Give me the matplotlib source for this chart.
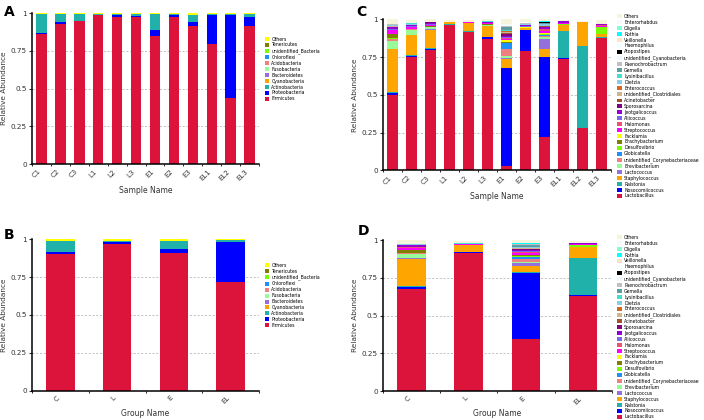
import matplotlib
matplotlib.use("Agg")
import matplotlib.pyplot as plt
from matplotlib.patches import Patch
import numpy as np

plt.rcParams['font.family'] = ['DejaVu Sans']

# ---- phylum level (panels A and B) ----
samples = ["C1", "C2", "C3", "L1", "L2", "L3", "E1", "E2", "E3", "EL1", "EL2", "EL3"]
groups = ["C", "L", "E", "EL"]

phyla = ["Firmicutes", "Proteobacteria", "Actinobacteria", "Cyanobacteria",
         "Bacteroidetes", "Fusobacteria", "Acidobacteria", "Chloroflexi",
         "unidentified_Bacteria", "Tenericutes", "Others"]
phylum_colors = ["#DC143C", "#0000FF", "#20B2AA", "#FFA500", "#9370DB", "#98FB98",
                 "#F08080", "#1E90FF", "#7CFC00", "#808000", "#FFFF00"]

firmicutes_s = [0.860, 0.925, 0.945, 0.985, 0.973, 0.973, 0.850, 0.973, 0.916, 0.797, 0.435, 0.914]
proteo_s = [0.010, 0.013, 0.005, 0.005, 0.012, 0.005, 0.037, 0.012, 0.024, 0.188, 0.550, 0.061]
actino_s = [0.124, 0.056, 0.044, 0.004, 0.009, 0.016, 0.104, 0.009, 0.045, 0.007, 0.007, 0.016]
cyano_s = [0, 0, 0, 0, 0, 0, 0, 0, 0.005, 0, 0, 0]
zero_s = [0] * 12
others_s = [0.005, 0.005, 0.005, 0.005, 0.005, 0.005, 0.008, 0.005, 0.008, 0.007, 0.007, 0.008]

firmicutes_g = [0.905, 0.971, 0.912, 0.718]
proteo_g = [0.011, 0.009, 0.024, 0.267]
actino_g = [0.075, 0.011, 0.053, 0.008]
cyano_g = [0, 0, 0.002, 0]
zero_g = [0] * 4
others_g = [0.008, 0.008, 0.008, 0.006]

phylum_samples = [firmicutes_s, proteo_s, actino_s, cyano_s, zero_s, zero_s,
                  zero_s, zero_s, zero_s, zero_s, others_s]
phylum_groups = [firmicutes_g, proteo_g, actino_g, cyano_g, zero_g, zero_g,
                 zero_g, zero_g, zero_g, zero_g, others_g]

# ---- genus level (panels C and D) ----
genera = ["Lactobacillus", "Nosocomiicoccus", "Ralstonia", "Staphylococcus",
          "Lactococcus", "Brevibacterium", "unidentified_Corynebacteriaceae",
          "Globicatella", "Desulfovibrio", "Brachybacterium", "Facklamia",
          "Streptococcus", "Halomonas", "Aliicoccus", "Jeotgalicoccus",
          "Sporosarcina", "Acinetobacter", "unidentified_Clostridiales",
          "Enterococcus", "Dietzia", "Lysinibacillus", "Gemella",
          "Paenochrobactrum", "unidentified_Cyanobacteria", "Atopostipes",
          "Haemophilus", "Veillonella", "Rothia", "Oligella", "Enterorhabdus",
          "Others"]
genus_colors = ["#DC143C", "#0000FF", "#20B2AA", "#FFA500", "#9370DB", "#98FB98",
                "#F08080", "#1E90FF", "#7CFC00", "#808000", "#FFFF00", "#FF00FF",
                "#F0506E", "#7B68EE", "#9400D3", "#800080", "#A0522D", "#D2B48C",
                "#D2691E", "#87CEEB", "#40E0D0", "#5F9EA0", "#C0C0C0", "#F0F8FF",
                "#000000", "#F0FFFF", "#FFE4C4", "#00FFFF", "#7FFFD4", "#F8F8FF",
                "#F5F5DC"]

# rows follow `genera`, columns follow `samples`
genus_samples = [
    [0.500, 0.748, 0.795, 0.962, 0.915, 0.872, 0.030, 0.790, 0.218, 0.735, 0.280, 0.873],
    [0.015, 0.012, 0.010, 0.002, 0.003, 0.010, 0.645, 0.140, 0.530, 0.008, 0.002, 0.005],
    [0.002, 0.002, 0.002, 0.003, 0.005, 0.003, 0.003, 0.002, 0.003, 0.180, 0.540, 0.008],
    [0.285, 0.132, 0.125, 0.015, 0.050, 0.070, 0.060, 0.010, 0.050, 0.040, 0.160, 0.018],
    [0.003, 0.002, 0.002, 0, 0, 0.002, 0.003, 0, 0.070, 0, 0, 0],
    [0.050, 0.035, 0.012, 0, 0.002, 0.005, 0.015, 0, 0.010, 0.001, 0, 0.001],
    [0.015, 0.003, 0.003, 0, 0, 0.002, 0.045, 0, 0.010, 0.001, 0, 0.001],
    [0.002, 0, 0, 0, 0, 0.001, 0.040, 0.001, 0.005, 0, 0, 0],
    [0.002, 0, 0, 0, 0, 0, 0.005, 0.001, 0.005, 0.002, 0, 0.045],
    [0.030, 0.002, 0.010, 0, 0, 0.001, 0.005, 0.001, 0.005, 0, 0, 0],
    [0.002, 0, 0, 0, 0, 0, 0.010, 0.001, 0.003, 0, 0, 0],
    [0.020, 0.010, 0.004, 0.001, 0.005, 0.008, 0.008, 0.003, 0.012, 0.008, 0, 0.008],
    [0.005, 0.005, 0.002, 0, 0, 0.002, 0.008, 0.001, 0.012, 0.002, 0, 0.002],
    [0.005, 0.005, 0.005, 0, 0, 0.001, 0.005, 0.005, 0.005, 0.001, 0, 0.002],
    [0.010, 0.005, 0.008, 0, 0.001, 0.002, 0.010, 0.005, 0.008, 0.008, 0, 0.005],
    [0.003, 0.001, 0.001, 0, 0, 0.001, 0.010, 0.001, 0.005, 0.001, 0, 0.001],
    [0.002, 0.001, 0.005, 0, 0, 0, 0.008, 0.002, 0.003, 0, 0, 0],
    [0.002, 0, 0, 0, 0, 0, 0.005, 0.001, 0.002, 0, 0, 0],
    [0.002, 0, 0, 0, 0, 0, 0.005, 0.001, 0.002, 0, 0, 0],
    [0.005, 0.005, 0, 0, 0, 0.005, 0.005, 0.001, 0.008, 0, 0, 0.001],
    [0.003, 0.005, 0, 0, 0, 0.005, 0.005, 0.001, 0.005, 0, 0, 0.001],
    [0.002, 0, 0, 0, 0, 0, 0.020, 0.005, 0.003, 0, 0, 0],
    [0.001, 0, 0, 0, 0, 0, 0.005, 0.003, 0.002, 0, 0, 0],
    [0.001, 0, 0, 0, 0, 0, 0.002, 0.001, 0.002, 0, 0, 0],
    [0, 0, 0, 0, 0, 0, 0.001, 0.002, 0.001, 0, 0, 0],
    [0.001, 0, 0, 0, 0, 0, 0.002, 0.001, 0.003, 0, 0, 0],
    [0.001, 0, 0, 0, 0, 0, 0.002, 0.001, 0.002, 0, 0, 0],
    [0.001, 0.003, 0, 0, 0, 0.002, 0.001, 0.001, 0.003, 0, 0, 0],
    [0.001, 0, 0, 0, 0, 0, 0.002, 0, 0.002, 0, 0, 0],
    [0.001, 0, 0, 0, 0, 0, 0.001, 0, 0.001, 0, 0, 0],
    [0.028, 0.022, 0.016, 0.015, 0.017, 0.008, 0.034, 0.019, 0.010, 0.006, 0.008, 0.025],
]

# rows follow `genera`, columns follow `groups`
genus_groups = [
    [0.678, 0.918, 0.345, 0.630],
    [0.014, 0.002, 0.440, 0.008],
    [0.002, 0.004, 0.003, 0.245],
    [0.183, 0.045, 0.042, 0.070],
    [0.002, 0, 0.018, 0],
    [0.028, 0.001, 0.008, 0.001],
    [0.010, 0, 0.020, 0.001],
    [0, 0, 0.015, 0],
    [0, 0, 0.004, 0.015],
    [0.020, 0, 0.004, 0],
    [0, 0, 0.005, 0],
    [0.012, 0.004, 0.010, 0.006],
    [0.004, 0.001, 0.010, 0.001],
    [0.005, 0, 0.004, 0.001],
    [0.008, 0.001, 0.008, 0.004],
    [0.001, 0, 0.005, 0.001],
    [0.001, 0, 0.004, 0],
    [0, 0, 0.002, 0],
    [0, 0, 0.002, 0],
    [0.005, 0.001, 0.005, 0],
    [0.001, 0.003, 0.004, 0],
    [0, 0, 0.010, 0],
    [0, 0, 0.004, 0],
    [0, 0, 0.001, 0],
    [0, 0, 0.001, 0],
    [0, 0, 0.002, 0],
    [0, 0, 0.001, 0],
    [0.001, 0.001, 0.002, 0],
    [0, 0, 0.001, 0],
    [0, 0, 0.001, 0],
    [0.025, 0.017, 0.019, 0.015],
]


def stacked(ax, names, rows, colors, width, xlabel):
    x = np.arange(len(names))
    bottom = np.zeros(len(names))
    for vals, c in zip(rows, colors):
        vals = np.array(vals, dtype=float)
        ax.bar(x, vals, width, bottom=bottom, color=c, linewidth=0, zorder=2)
        bottom += vals
    ax.set_xlim(-0.5, len(names) - 0.5)
    ax.set_ylim(0, 1)
    for yv in [0.25, 0.5, 0.75]:
        ax.axhline(yv, color="#b8b8b8", lw=0.6, ls=(0, (2.5, 2)), zorder=0)
    ax.set_yticks([0, 0.25, 0.5, 0.75, 1])
    ax.set_yticklabels(["0", "0.25", "0.5", "0.75", "1"])
    ax.set_xticks(x)
    ax.set_xticklabels(names, rotation=45, ha="right")
    ax.set_xticks(np.arange(len(names) + 1) - 0.5, minor=True)
    ax.tick_params(axis="x", which="major", length=0, pad=3, labelsize=5.0, colors="#333333")
    ax.tick_params(axis="x", which="minor", length=1.5, width=0.6)
    ax.tick_params(axis="y", length=2.5, width=0.8, pad=1.2, labelsize=5.2, colors="#333333")
    for s in ["top", "right"]:
        ax.spines[s].set_visible(False)
    for s in ["left", "bottom"]:
        ax.spines[s].set_linewidth(1.1)
    ax.set_xlabel(xlabel, fontsize=5.5, color="#333333", labelpad=3)
    ax.set_ylabel("Relative Abundance", fontsize=5.3, color="#333333", labelpad=3)


def legend(ax, names, colors, x, y):
    handles = [Patch(facecolor=c, edgecolor="none") for c in colors][::-1]
    ax.legend(handles, names[::-1], loc="upper left", bbox_to_anchor=(x, y),
              bbox_transform=ax.figure.transFigure, frameon=False, fontsize=3.3,
              handlelength=0.95, handleheight=0.95, handletextpad=0.5,
              labelspacing=0.2, borderpad=0, borderaxespad=0)


fig = plt.figure(figsize=(7.04, 4.2), dpi=100)

axA = fig.add_axes([0.0455, 0.6095, 0.3224, 0.3595])
stacked(axA, samples, phylum_samples, phylum_colors, 0.55, "Sample Name")
legend(axA, phyla, phylum_colors, 0.376, 0.913)

axB = fig.add_axes([0.0455, 0.0698, 0.3224, 0.3605])
stacked(axB, groups, phylum_groups, phylum_colors, 0.5, "Group Name")
legend(axB, phyla, phylum_colors, 0.376, 0.374)

axC = fig.add_axes([0.544, 0.5945, 0.324, 0.3595])
stacked(axC, samples, genus_samples, genus_colors, 0.55, "Sample Name")
legend(axC, genera, genus_colors, 0.877, 0.967)

axD = fig.add_axes([0.544, 0.069, 0.325, 0.359])
stacked(axD, groups, genus_groups, genus_colors, 0.5, "Group Name")
legend(axD, genera, genus_colors, 0.877, 0.441)

for lab, x, y in [("A", 0.005, 0.988), ("B", 0.005, 0.458), ("C", 0.506, 0.988), ("D", 0.508, 0.466)]:
    fig.text(x, y, lab, fontsize=10, fontweight="bold", va="top", ha="left")

fig.savefig("out.png", dpi=100)
